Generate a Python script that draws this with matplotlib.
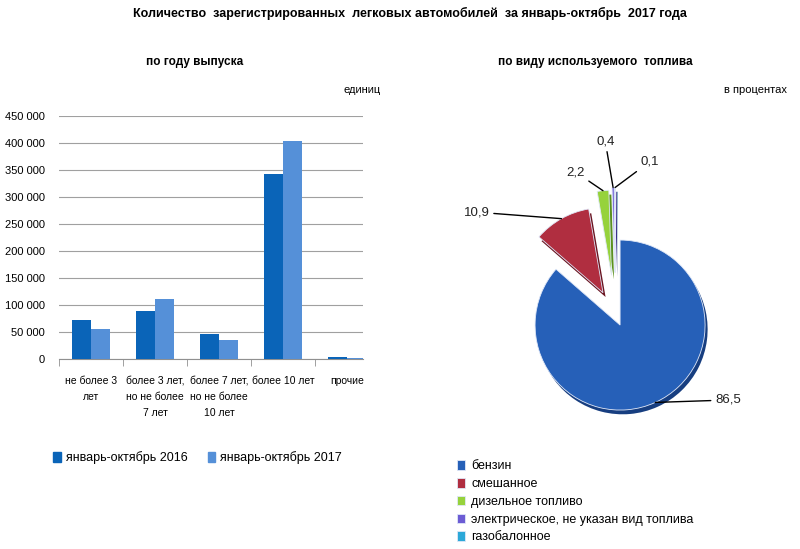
import numpy as np
import matplotlib
matplotlib.use('Agg')
import matplotlib.pyplot as plt
from matplotlib.patches import Patch
from matplotlib.ticker import FuncFormatter

# ---- data ----
age_cats = ['не более 3\nлет', 'более 3 лет,\nно не более\n7 лет',
            'более 7 лет,\nно не более\n10 лет', 'более 10 лет', 'прочие']
y2016 = [72000, 88000, 46000, 342000, 3500]
y2017 = [56000, 112000, 35000, 404000, 2500]
series_names = ['январь-октябрь 2016', 'январь-октябрь 2017']

fuel_names = ['бензин', 'смешанное', 'дизельное топливо',
              'электрическое, не указан вид топлива', 'газобалонное']
fuel_share = [86.5, 10.9, 2.2, 0.4, 0.1]
fuel_labels = ['86,5', '10,9', '2,2', '0,4', '0,1']

plain = ['Liberation Sans', 'DejaVu Sans']

fig = plt.figure(figsize=(8, 5.49), dpi=100)

fig.text(410/800, 1 - 13/549, 'Количество  зарегистрированных  легковых автомобилей  за январь-октябрь  2017 года',
         ha='center', va='center', fontsize=9, fontweight='bold', family=plain)
fig.text(195/800, 1 - 62/549, 'по году выпуска', ha='center', va='center',
         fontsize=8.5, fontweight='bold', family=plain)
fig.text(595/800, 1 - 62/549, 'по виду используемого  топлива', ha='center', va='center',
         fontsize=8.5, fontweight='bold', family=plain)
fig.text(362/800, 1 - 90/549, 'единиц', ha='center', va='center', fontsize=8, family=plain)
fig.text(755/800, 1 - 90/549, 'в процентах', ha='center', va='center', fontsize=8, family=plain)

# ---- bar chart ----
c16 = '#0A64B8'
c17 = '#5590D8'
ax = fig.add_axes([59/800, 1 - 359/549, 304/800, 243/549])
x = np.arange(len(age_cats))
w = 0.3
ax.bar(x - w/2, y2016, w, color=c16, zorder=3)
ax.bar(x + w/2, y2017, w, color=c17, zorder=3)
ax.set_xlim(-0.5, len(age_cats) - 0.75)
ax.set_ylim(0, 450000)
ax.set_yticks(np.arange(0, 450001, 50000))
ax.yaxis.set_major_formatter(FuncFormatter(lambda v, p: f'{int(v):,}'.replace(',', ' ')))
ax.grid(axis='y', color='#A0A0A0', linewidth=0.8, zorder=0)
for s in ['top', 'right', 'left']:
    ax.spines[s].set_visible(False)
ax.spines['bottom'].set_color('#909090')
ax.tick_params(axis='y', length=0, pad=10, labelsize=8)
ax.set_xticks(x)
ax.set_xticklabels(age_cats, fontsize=7.5, linespacing=1.75, va='top')
ax.tick_params(axis='x', length=0, pad=12)
ax.set_xticks(np.arange(-0.5, len(age_cats) - 1), minor=True)
ax.tick_params(axis='x', which='minor', length=5, color='#909090')
for lbl in ax.get_xticklabels() + ax.get_yticklabels():
    lbl.set_family(plain)

fig.legend([Patch(color=c16), Patch(color=c17)], series_names,
           loc='upper left', bbox_to_anchor=(42/800, 1 - 440/549), ncol=2,
           frameon=False, handlelength=0.6, handleheight=0.9, handletextpad=0.4,
           columnspacing=1.6, prop={'family': plain, 'size': 9})

# ---- pie chart ----
pie_cols = ['#2660B8', '#B02E40', '#96D23C', '#6C5CD4', '#2CA8D8']
edge_cols = ['#173E80', '#6A1420', '#5A9020', '#3A2A88', '#186C90']
explode = [0.13, 0.30, 0.47, 0.50, 0.50]
R = 85.0
pax = fig.add_axes([440/800, 1 - 440/549, 360/800, 320/549])
pax.axis('off')

# darker rim underneath for some depth
pax.pie(fuel_share, colors=edge_cols, explode=explode, startangle=90,
        counterclock=False, radius=1.0, center=(0.03, -0.05),
        wedgeprops=dict(linewidth=0))
wedges, _ = pax.pie(fuel_share, colors=pie_cols, explode=explode, startangle=90,
                    counterclock=False, radius=1.0,
                    wedgeprops=dict(linewidth=0.6, edgecolor='#E0E8F8'))
pax.set_xlim((440 - 615.5)/R, (800 - 615.5)/R)
pax.set_ylim((315 - 440)/R, (315 - 120)/R)
pax.set_aspect('auto')

text_pos = [(1.17, -1.0), (-1.48, 1.21), (-0.36, 1.68), (-0.12, 1.97), (0.29, 1.80)]
text_ha = ['left', 'right', 'right', 'center', 'left']
text_va = ['center', 'center', 'center', 'bottom', 'center']
for wd, e, lab, tp, ha, va in zip(wedges, explode, fuel_labels, text_pos, text_ha, text_va):
    mid = np.deg2rad((wd.theta1 + wd.theta2) / 2)
    ax_pt = ((1 + e) * np.cos(mid), (1 + e) * np.sin(mid))
    pax.annotate(lab, xy=ax_pt, xytext=tp, ha=ha, va=va, fontsize=9.5, family=plain,
                 color='#222222',
                 arrowprops=dict(arrowstyle='-', color='black', lw=1.0,
                                 shrinkA=1, shrinkB=0))

fig.legend(wedges, fuel_names, loc='upper left', bbox_to_anchor=(446/800, 1 - 449/549),
           frameon=False, handlelength=0.6, handleheight=0.8, handletextpad=0.5,
           labelspacing=0.45, prop={'family': plain, 'size': 9})

plt.savefig('out.png', dpi=100)
